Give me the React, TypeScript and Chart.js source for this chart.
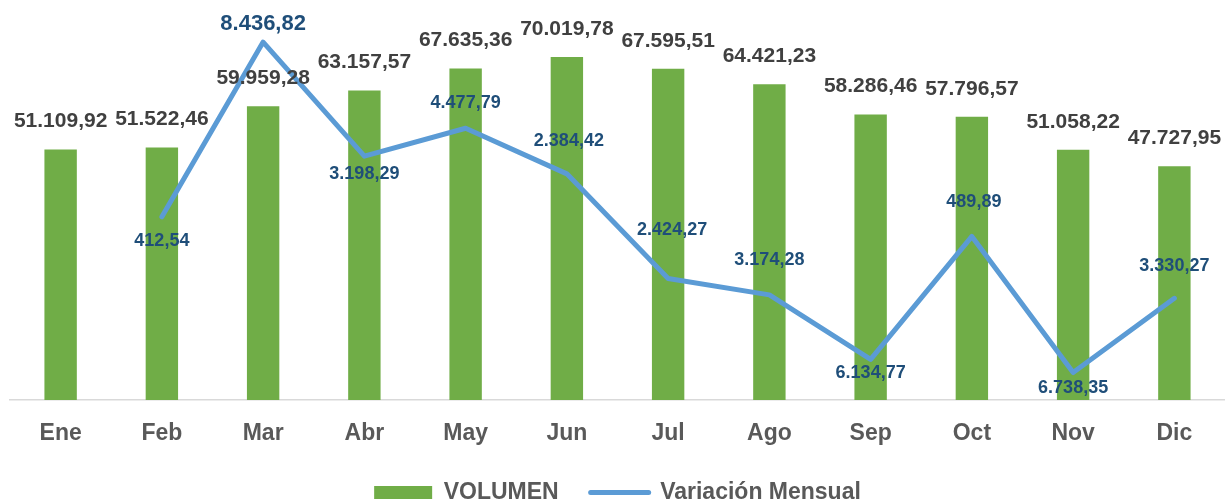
import React, { useEffect, useRef } from "react";
import { Chart, registerables } from "chart.js";

Chart.register(...registerables);

const categories = ["Ene", "Feb", "Mar", "Abr", "May", "Jun", "Jul", "Ago", "Sep", "Oct", "Nov", "Dic"];
const volumen = [51109.92, 51522.46, 59959.28, 63157.57, 67635.36, 70019.78, 67595.51, 64421.23, 58286.46, 57796.57, 51058.22, 47727.95];
const variacionMensual = [null, 412.54, 8436.82, 3198.29, 4477.79, 2384.42, -2424.27, -3174.28, -6134.77, -489.89, -6738.35, -3330.27];
const seriesNames = ["VOLUMEN", "Variación Mensual"];

// label placement (pixel offsets from point) for the line labels
const lineLabelDy = [0, 24, -18, 18, -25, -33, -49, -35, 14, -34, 16, -32];
const lineLabelDx = [0, 0, 0, 0, 0, 2, 4, 0, 0, 2, 0, 0];

const GREEN = "#70AD47";
const BLUE = "#5B9BD5";
const FONT = "'Liberation Sans', Arial, sans-serif";

function fmt(v: number): string {
  const a = Math.abs(v).toFixed(2);
  const [ip, dp] = a.split(".");
  const grouped = ip.replace(/\B(?=(\d{3})+(?!\d))/g, ".");
  return grouped + "," + dp;
}

const labelPlugin = {
  id: "valueLabels",
  afterDatasetsDraw(chart: any) {
    const ctx = chart.ctx;
    ctx.save();
    ctx.textAlign = "center";
    ctx.textBaseline = "middle";
    const barMeta = chart.getDatasetMeta(0);
    ctx.fillStyle = "#404040";
    ctx.font = `bold 21px ${FONT}`;
    barMeta.data.forEach((el: any, i: number) => {
      ctx.fillText(fmt(volumen[i]), el.x, el.y - 28);
    });
    const lineMeta = chart.getDatasetMeta(1);
    ctx.fillStyle = "#1F4E79";
    const maxVar = Math.max(...(variacionMensual.filter((x) => x !== null) as number[]));
    lineMeta.data.forEach((el: any, i: number) => {
      const v = variacionMensual[i];
      if (v === null || v === undefined) return;
      ctx.font = v === maxVar ? `bold 22px ${FONT}` : `bold 18px ${FONT}`;
      ctx.fillText(fmt(v), el.x + lineLabelDx[i], el.y + lineLabelDy[i]);
    });
    ctx.restore();
  },
};

export default function App() {
  const canvasRef = useRef<HTMLCanvasElement | null>(null);

  useEffect(() => {
    if (!canvasRef.current) return;
    const chart = new Chart(canvasRef.current, {
      type: "bar",
      data: {
        labels: categories,
        datasets: [
          {
            type: "bar",
            label: seriesNames[0],
            data: volumen,
            backgroundColor: GREEN,
            borderWidth: 0,
            barPercentage: 0.32,
            categoryPercentage: 1,
            yAxisID: "y",
            order: 2,
          },
          {
            type: "line",
            label: seriesNames[1],
            data: variacionMensual as any,
            borderColor: BLUE,
            backgroundColor: BLUE,
            borderWidth: 5,
            borderCapStyle: "round",
            borderJoinStyle: "round",
            pointRadius: 0,
            pointHoverRadius: 0,
            tension: 0,
            yAxisID: "y1",
            order: 1,
          } as any,
        ],
      },
      options: {
        animation: false,
        responsive: false,
        maintainAspectRatio: false,
        layout: { padding: { top: 8, left: 10, right: 0, bottom: -14 } },
        scales: {
          x: {
            grid: { display: false, drawTicks: false },
            border: { display: true, color: "#D9D9D9", width: 1.5 },
            ticks: {
              color: "#595959",
              font: { family: FONT, size: 23, weight: "bold" },
              padding: 20,
            },
            afterFit: (s: any) => {
              s.height = 49;
            },
          },
          y: { display: false, min: 0, max: 80000 },
          y1: { display: false, min: -8000, max: 10000, position: "right" },
        },
        plugins: {
          tooltip: { enabled: false },
          legend: {
            position: "bottom",
            labels: {
              color: "#595959",
              font: { family: FONT, size: 23, weight: "bold" },
              usePointStyle: true,
              pointStyleWidth: 58,
              boxHeight: 13,
              padding: 32,
              sort: (a: any, b: any) => a.datasetIndex - b.datasetIndex,
              generateLabels: (c: any) => {
                const items = Chart.defaults.plugins.legend.labels.generateLabels(c);
                items.forEach((it: any) => {
                  if (it.datasetIndex === 0) {
                    it.pointStyle = "rect";
                    it.fillStyle = GREEN;
                    it.strokeStyle = GREEN;
                    it.lineWidth = 0;
                  } else {
                    it.pointStyle = "line";
                    it.strokeStyle = BLUE;
                    it.fillStyle = BLUE;
                    it.lineWidth = 5;
                    it.lineCap = "round";
                  }
                });
                return items;
              },
            },
          },
        },
      },
      plugins: [labelPlugin],
    });
    return () => chart.destroy();
  }, []);

  return (
    <div style={{ position: "fixed", left: 0, top: 0, width: 1225, height: 500, background: "#fff" }}>
      <canvas ref={canvasRef} width={1225} height={500} style={{ width: 1225, height: 500 }} />
    </div>
  );
}
